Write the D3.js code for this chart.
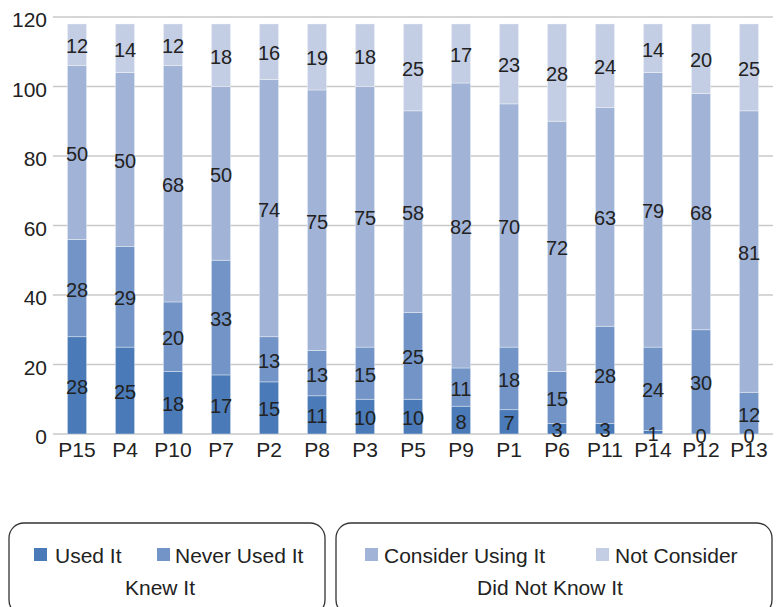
<!DOCTYPE html>
<html>
<head>
<meta charset="utf-8">
<script src="https://cdn.jsdelivr.net/npm/d3@7"></script>
<style>
  html, body { margin: 0; padding: 0; background: #fff; }
  svg { display: block; font-family: "Liberation Sans", Arial, Helvetica, sans-serif; }
</style>
</head>
<body>
<svg id="chart" width="779" height="607"></svg>
<script>
// Participants, in display order
const categories = ["P15","P4","P10","P7","P2","P8","P3","P5","P9","P1","P6","P11","P14","P12","P13"];

// Stacked series (bottom to top)
const usedIt        = [28,25,18,17,15,11,10,10,8,7,3,3,1,0,0];
const neverUsedIt   = [28,29,20,33,13,13,15,25,11,18,15,28,24,30,12];
const considerUsing = [50,50,68,50,74,75,75,58,82,70,72,63,79,68,81];
const notConsider   = [12,14,12,18,16,19,18,25,17,23,28,24,14,20,25];

const seriesNames = ["Used It","Never Used It","Consider Using It","Not Consider"];
const seriesColors = ["#4a7ab7","#7294c7","#a1b3d6","#c3cde3"];

// Y-axis ticks
const yTicks = [0,20,40,60,80,100,120];

// Legend groups
const legendGroups = [
  { title: "Knew It",         items: [0,1] },
  { title: "Did Not Know It", items: [2,3] }
];

const rows = categories.map((c, i) => ({
  cat: c,
  "Used It": usedIt[i],
  "Never Used It": neverUsedIt[i],
  "Consider Using It": considerUsing[i],
  "Not Consider": notConsider[i]
}));

const svg = d3.select("#chart");

const x = d3.scaleBand()
  .domain(categories)
  .range([53, 773])
  .paddingInner(0.6)
  .paddingOuter(0.3);

const y = d3.scaleLinear()
  .domain([0, 120])
  .range([434, 17]);

// Horizontal gridlines (including the baseline)
svg.append("g")
  .selectAll("line")
  .data(yTicks)
  .join("line")
  .attr("x1", 53).attr("x2", 773)
  .attr("y1", d => y(d)).attr("y2", d => y(d))
  .attr("stroke", "#c9c9c9")
  .attr("stroke-width", 1.6);

// Y tick labels
svg.append("g")
  .selectAll("text")
  .data(yTicks)
  .join("text")
  .attr("x", 47)
  .attr("y", d => y(d) + 10)
  .attr("text-anchor", "end")
  .attr("font-size", 21)
  .attr("fill", "#222")
  .text(d => d);

// Stack the series
const stack = d3.stack().keys(seriesNames);
const stacked = stack(rows);

const layers = svg.append("g")
  .selectAll("g")
  .data(stacked)
  .join("g")
  .attr("fill", (d, i) => seriesColors[i]);

layers.selectAll("rect")
  .data(d => d)
  .join("rect")
  .attr("x", d => x(d.data.cat))
  .attr("width", x.bandwidth())
  .attr("y", d => y(d[1]))
  .attr("height", d => y(d[0]) - y(d[1]))
  .attr("stroke", "rgba(255,255,255,0.45)")
  .attr("stroke-width", 0.8);

// Segment value labels
const labels = svg.append("g")
  .attr("font-size", 20)
  .attr("fill", "#222")
  .attr("text-anchor", "middle");

stacked.forEach(layer => {
  layer.forEach(d => {
    const v = d[1] - d[0];
    labels.append("text")
      .attr("x", x(d.data.cat) + x.bandwidth() / 2)
      .attr("y", y((d[0] + d[1]) / 2) + 8.5)
      .text(v);
  });
});

// Category labels
svg.append("g")
  .selectAll("text")
  .data(categories)
  .join("text")
  .attr("x", d => x(d) + x.bandwidth() / 2)
  .attr("y", 457)
  .attr("text-anchor", "middle")
  .attr("font-size", 21)
  .attr("fill", "#222")
  .text(d => d);

// Grouped legend boxes
const boxes = [
  { x0: 9,   x1: 325 },
  { x0: 336, x1: 772 }
];
const itemPos = [
  [{ sx: 34, tx: 55 }, { sx: 157, tx: 175 }],
  [{ sx: 365, tx: 384 }, { sx: 596, tx: 615 }]
];

legendGroups.forEach((g, gi) => {
  const b = boxes[gi];
  const lg = svg.append("g");
  lg.append("rect")
    .attr("x", b.x0).attr("y", 523)
    .attr("width", b.x1 - b.x0).attr("height", 92)
    .attr("rx", 15).attr("ry", 15)
    .attr("fill", "none")
    .attr("stroke", "#333")
    .attr("stroke-width", 1.3);

  g.items.forEach((si, k) => {
    const p = itemPos[gi][k];
    lg.append("rect")
      .attr("x", p.sx).attr("y", 548)
      .attr("width", 13).attr("height", 13)
      .attr("fill", seriesColors[si]);
    lg.append("text")
      .attr("x", p.tx).attr("y", 563)
      .attr("font-size", 21)
      .attr("fill", "#222")
      .text(seriesNames[si]);
  });

  lg.append("text")
    .attr("x", gi === 0 ? 160 : 550)
    .attr("y", 595)
    .attr("text-anchor", "middle")
    .attr("font-size", 21)
    .attr("fill", "#222")
    .text(g.title);
});
</script>
</body>
</html>
